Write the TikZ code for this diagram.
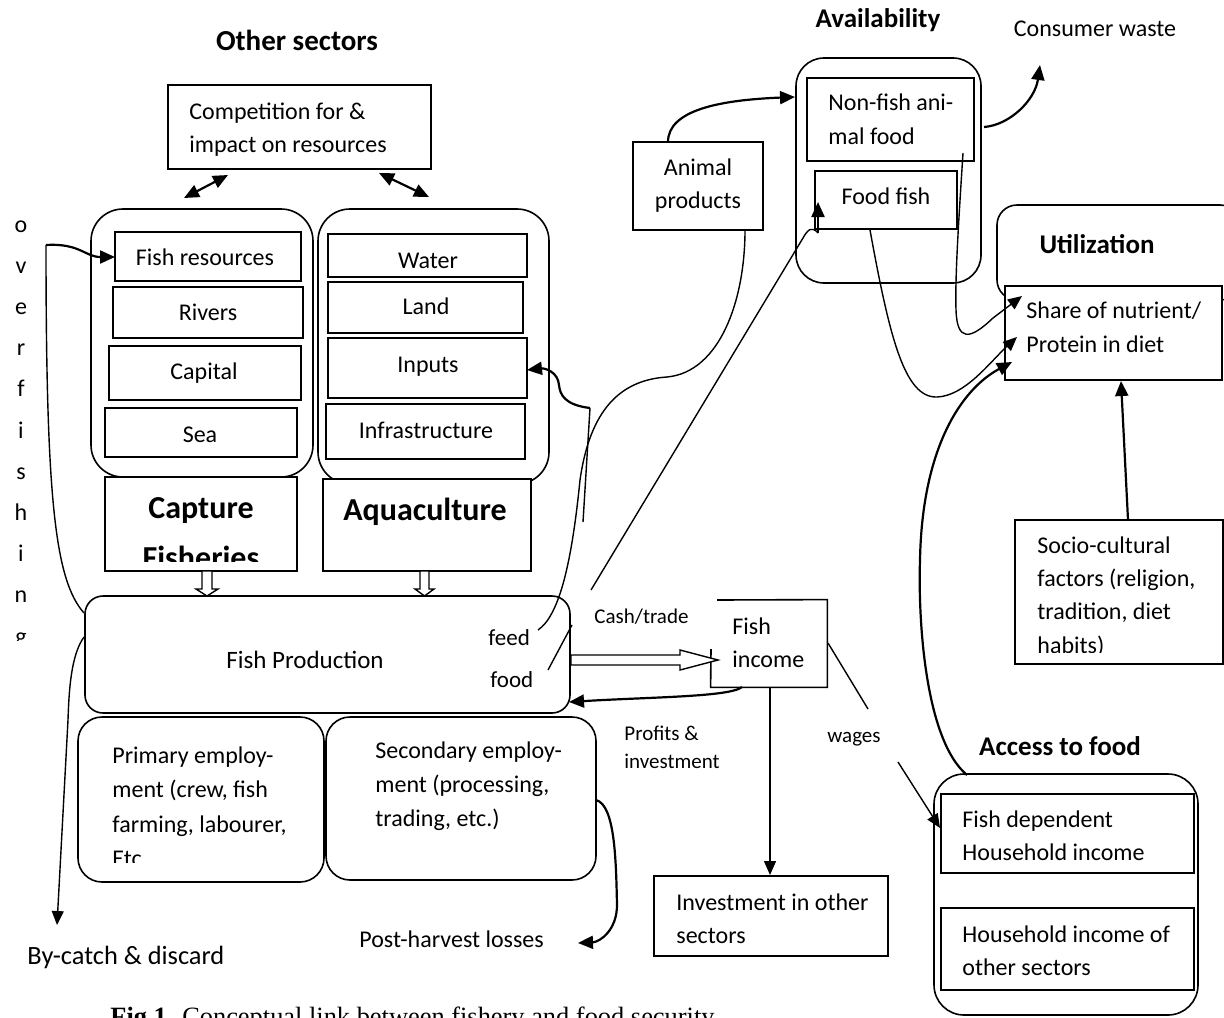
\documentclass[tikz,border=0pt]{standalone}
\usepackage{fontspec}
\setmainfont{Carlito}
\newfontfamily\capfont{Liberation Serif}
\usetikzlibrary{arrows.meta,fit}
\newcommand\mlines[1]{\begin{tabular}[t]{@{}l@{}}#1\end{tabular}}
\newcommand\clines[1]{\begin{tabular}[t]{@{}c@{}}#1\end{tabular}}
\begin{document}
\begin{tikzpicture}[x=0.5pt,y=-0.5pt,
  box/.style={draw,line width=0.8pt,fill=white,inner sep=0pt},
  cont/.style={draw,line width=0.8pt,inner sep=0pt,rounded corners=#1},
  txt/.style={inner sep=0pt,anchor=base west,font=\fontsize{12}{16.5}\selectfont},
  ctxt/.style={inner sep=0pt,anchor=base,font=\fontsize{12}{16.5}\selectfont},
  stxt/.style={inner sep=0pt,anchor=base west,font=\fontsize{10.5}{14}\selectfont},
  head/.style={inner sep=0pt,anchor=base,font=\bfseries\fontsize{13.5}{16}\selectfont},
  big/.style={inner sep=0pt,anchor=base,font=\bfseries\fontsize{16}{25}\selectfont},
  conn/.style={line width=0.7pt},
  tarr/.style={line width=0.7pt,-{Triangle[length=7pt,width=6pt]}},
  arr/.style={line width=1.1pt,-{Triangle[length=7.5pt,width=6.5pt]}},
  darr/.style={line width=1.1pt,{Triangle[length=7.5pt,width=6.5pt]}-{Triangle[length=7.5pt,width=6.5pt]}},
  hollow/.style={draw,line width=0.7pt,fill=white}]
\clip (0,0) rectangle (1224,1017);

% containers
\node[cont=16pt,fit={(91,209)(313,477)}] (lcont) {};
\node[cont=16pt,fit={(318,209)(549,484)}] (rcont) {};
\node[cont=14pt,fit={(796,58)(981,283)}] (avail) {};
\node[cont=10pt,fit={(997,205)(1240,300)}] (util) {};
\node[cont=15pt,fit={(934,774)(1198,1015)}] (access) {};

% boxes
\node[box,fit={(168,85)(431,169)}] (comp) {};
\node[box,fit={(115,232)(301,281)}] (fishres) {};
\node[box,fit={(113,287)(303,338)}] (rivers) {};
\node[box,fit={(109,346)(301,400)}] (capital) {};
\node[box,fit={(105,408)(297,457)}] (sea) {};
\node[box,fit={(105,477)(297,571)}] (capture) {};
\node[box,fit={(328,234)(527,277)}] (water) {};
\node[box,fit={(328,282)(523,333)}] (land) {};
\node[box,fit={(328,338)(527,398)}] (inputs) {};
\node[box,fit={(326,404)(525,459)}] (infra) {};
\node[box,fit={(323,479)(531,571)}] (aqua) {};
\node[box,rounded corners=9pt,fit={(85,596)(570,713)}] (fp) {};
\node[box,rounded corners=12pt,fit={(78,717)(324,882)}] (prim) {};
\node[box,rounded corners=12pt,fit={(326,717)(596,880)}] (sec) {};
\node[inner sep=0pt,fit={(711,600)(827,687)}] (fi) {};
\draw[line width=0.8pt] (717,600) -- (fi.north east) -- (fi.south east) -- (fi.south west) -- (711,649);
\node[box,fit={(654,876)(888,956)}] (inv) {};
\node[box,fit={(941,794)(1194,873)}] (fdh) {};
\node[box,fit={(941,908)(1194,990)}] (hio) {};
\node[box,fit={(1015,520)(1223,664)}] (socio) {};
\node[box,fit={(1005,286)(1222,380)}] (share) {};
\node[box,fit={(807,78)(974,161)}] (nonfish) {};
\node[box,fit={(815,171)(957,229)}] (foodfish) {};
\node[box,fit={(633,142)(763,230)}] (animal) {};

% hollow arrows
\draw[hollow] (202,571)--(212,571)--(212,589)--(218,589)--(207,596)--(196,589)--(202,589)--cycle;
\draw[hollow] (420,571)--(429,571)--(429,589)--(434,589)--(424.5,596)--(415,589)--(420,589)--cycle;
\draw[hollow] (571,655)--(680,655)--(680,650)--(718,660)--(680,670)--(680,665)--(571,665)--cycle;

% named connector ends
\coordinate (c1a) at (184,198); \coordinate (c1b) at (228,175);
\coordinate (c2a) at (379,173); \coordinate (c2b) at (429,197);
\coordinate (ofA) at (84,613); \coordinate (ofB) at (46,245); \coordinate (ofC) at (115,257);
\coordinate (bcA) at (84,637); \coordinate (bcB) at (57,925);
\coordinate (feedA) at (538,630); \coordinate (apB) at (745,230);
\coordinate (inA) at (583,522); \coordinate (inB) at (590,408); \coordinate (inC) at (527,370);
\coordinate (foA) at (548,670); \coordinate (foB) at (572,625);
\coordinate (ffA) at (591,590); \coordinate (ffB) at (818,233); \coordinate (ffC) at (818,202);
\coordinate (anA) at (668,142); \coordinate (anB) at (795,97);
\coordinate (cwA) at (984,127); \coordinate (cwB) at (1040,65);
\coordinate (nfA) at (963,153); \coordinate (nfB) at (1022,296);
\coordinate (fsA) at (870,230); \coordinate (fsB) at (1017,337);
\coordinate (acA) at (967,775); \coordinate (acB) at (1012,362);
\coordinate (scA) at (1128,520); \coordinate (scB) at (1121,381);
\coordinate (prA) at (742,687); \coordinate (prB) at (569,702);
\coordinate (ivA) at (770,687); \coordinate (ivB) at (770,875);
\coordinate (wgA) at (828,643); \coordinate (wgB) at (868,709);
\coordinate (wgC) at (898,762); \coordinate (wgD) at (940,828);
\coordinate (phA) at (596,800); \coordinate (phB) at (578,943);

% connectors
\draw[darr] (c1a) -- (c1b);
\draw[darr] (c2a) -- (c2b);
\draw[conn] (ofA) .. controls (55,580) and (46,500) .. (ofB);
\draw[arr] (ofB) .. controls (80,243) and (85,257) .. (ofC);
\draw[tarr] (bcA) .. controls (71,655) and (69,690) .. (68,720) -- (bcB);
\draw[conn] (feedA) .. controls (560,615) and (572,560) .. (580,480)
   .. controls (590,410) and (620,380) .. (667,377)
   .. controls (720,372) and (745,300) .. (apB);
\draw[conn] (inA) -- (inB);
\draw[arr] (inB) .. controls (565,405) and (560,395) .. (559,385) .. controls (558,372) and (545,368) .. (inC);
\draw[conn] (foA) -- (foB);
\draw[conn] (ffA) -- (803,238) .. controls (808,229) and (812,226) .. (ffB);
\draw[arr] (ffB) -- (ffC);
\draw[arr] (anA) .. controls (668,110) and (720,100) .. (anB);
\draw[arr] (cwA) .. controls (1010,125) and (1035,100) .. (cwB);
\draw[tarr] (nfA) .. controls (958,230) and (955,280) .. (956,310) .. controls (957,342) and (970,340) .. (993,318) -- (nfB);
\draw[tarr] (fsA) .. controls (890,340) and (905,398) .. (937,397) .. controls (965,396) and (990,362) .. (fsB);
\draw[arr] (acA) .. controls (925,740) and (918,620) .. (920,560) .. controls (922,450) and (960,390) .. (acB);
\draw[arr] (scA) -- (scB);
\draw[arr] (prA) .. controls (730,697) and (650,697) .. (prB);
\draw[tarr] (ivA) -- (ivB);
\draw[conn] (wgA) -- (wgB);
\draw[tarr] (wgC) -- (wgD);
\draw[arr] (phA) .. controls (615,805) and (616,860) .. (617,905) .. controls (617,930) and (600,942) .. (phB);

% texts
\node[head,font=\bfseries\fontsize{14.5}{17}\selectfont] (tother) at (297,50) {Other sectors};
\node[txt] (tcomp) at (189,119) {\mlines{Competition for \&\\impact on resources}};
\node[ctxt] (tfishres) at (205,265) {Fish resources};
\begin{scope}
\clip (330,236) rectangle (525,268);
\node[ctxt] (twater) at (428,268.5) {Water};
\end{scope}
\node[ctxt] (trivers) at (208,320) {Rivers};
\node[ctxt] (tcapital) at (204,379) {Capital};
\node[ctxt] (tsea) at (200,442) {Sea};
\node[ctxt] (tland) at (426,314) {Land};
\node[ctxt] (tinputs) at (428,372) {Inputs};
\node[ctxt] (tinfra) at (426,438) {Infrastructure};
\begin{scope}
\clip (107,479) rectangle (295,561);
\node[big] (tcapture) at (201,518) {\clines{Capture\\Fisheries}};
\end{scope}
\node[big] (taqua) at (425,520) {Aquaculture};
\node[ctxt,font=\fontsize{12.5}{16.5}\selectfont] (tfp) at (305,668) {Fish Production};
\node[txt,font=\fontsize{11.5}{14}\selectfont] (tfeed) at (488,645) {feed};
\node[txt,font=\fontsize{11.5}{14}\selectfont] (tfood) at (490,687) {food};
\node[stxt] (tcash) at (594,623) {Cash/trade};
\node[txt,font=\fontsize{12}{16.5}\selectfont] (tfi) at (732,634) {\mlines{Fish\\income}};
\node[stxt] (tprofits) at (624,740) {\mlines{Profits \&\\investment}};
\node[stxt,anchor=base] (twages) at (854,742) {wages};
\node[head] (taccess) at (1060,755) {Access to food};
\node[txt] (tfdh) at (962,827) {\mlines{Fish dependent\\Household income}};
\node[txt] (thio) at (962,942) {\mlines{Household income of\\other sectors}};
\node[txt] (tinv) at (676,910) {\mlines{Investment in other\\sectors}};
\node[txt,font=\fontsize{13.2}{16.5}\selectfont] (tbycatch) at (27,964) {By-catch \& discard};
\node[txt] (tpost) at (359,947) {Post-harvest losses};
\begin{scope}
\clip (80,720) rectangle (320,862);
\node[txt,font=\fontsize{12}{17.3}\selectfont] (tprim) at (112,763) {\mlines{Primary employ-\\ment (crew, fish\\farming, labourer,\\Etc}};
\end{scope}
\node[txt,font=\fontsize{12}{17}\selectfont] (tsec) at (375,758) {\mlines{Secondary employ-\\ment (processing,\\trading, etc.)}};
\node[ctxt] (tanimal) at (698,175) {\clines{Animal\\products}};
\node[head] (tavail) at (878,27) {Availability};
\node[ctxt] (tconsumer) at (1095,36) {Consumer waste};
\node[txt,font=\fontsize{12}{17}\selectfont] (tnonfish) at (828,110) {\mlines{Non-fish ani-\\mal food}};
\node[ctxt] (tfoodfish) at (886,204) {Food fish};
\node[head] (tutil) at (1097,253) {Utilization};
\node[txt,font=\fontsize{12}{17}\selectfont] (tshare) at (1026,318) {\mlines{Share of nutrient/\\Protein in diet}};
\begin{scope}
\clip (1017,522) rectangle (1221,652);
\node[txt,font=\fontsize{12}{16.7}\selectfont] (tsocio) at (1037,553) {\mlines{Socio-cultural\\factors (religion,\\tradition, diet\\habits)}};
\end{scope}
\begin{scope}
\clip (0,200) rectangle (40,640);
\node[ctxt,font=\fontsize{12}{20.6}\selectfont] (tover) at (21,232) {\clines{o\\v\\e\\r\\f\\i\\s\\h\\i\\n\\g}};
\end{scope}
\node[inner sep=0pt,anchor=base west,font=\capfont\fontsize{13.2}{15}\selectfont] (tcap) at (110,1025) {\textbf{Fig.1.} Conceptual link between fishery and food security};
\end{tikzpicture}
\end{document}
